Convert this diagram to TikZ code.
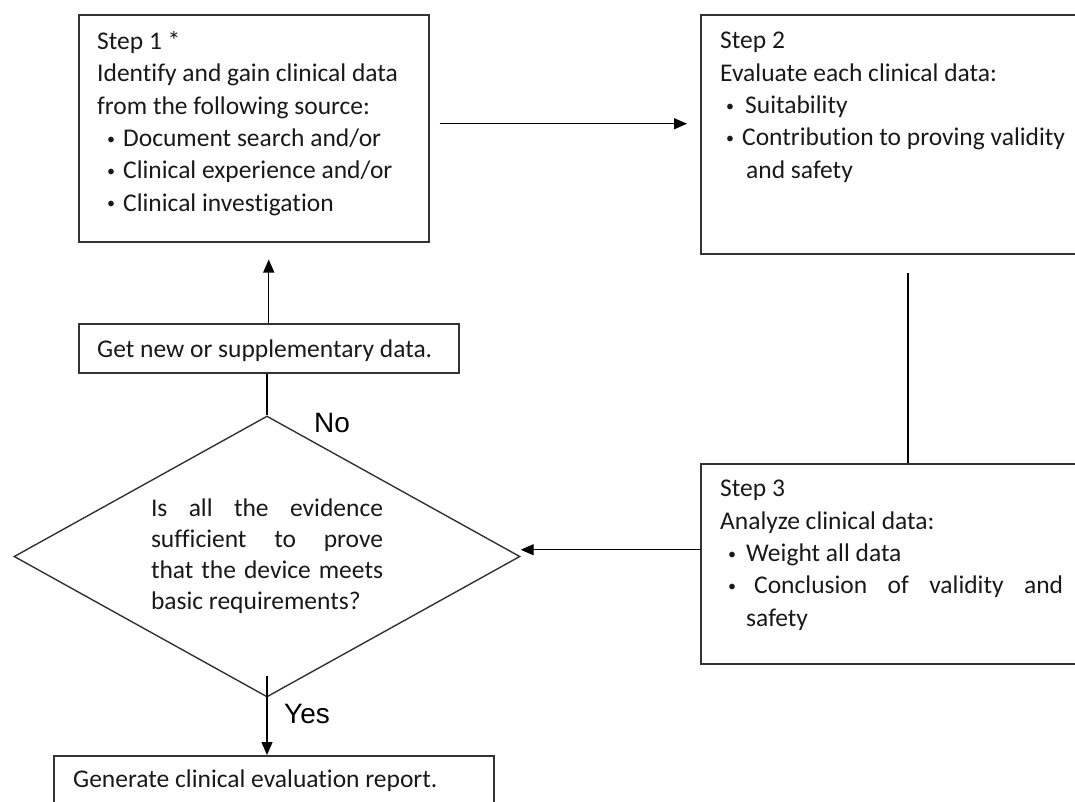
\documentclass[tikz,border=0pt]{standalone}
\usepackage{fontspec}
\setmainfont{Carlito}[Ligatures={NoCommon}]
\newfontfamily\arialfont{Liberation Sans}
\usetikzlibrary{arrows.meta, shapes.geometric}
\newcommand{\bul}{\raisebox{2.5pt}{\fontsize{16}{16}\selectfont\textbullet}}

\begin{document}
\begin{tikzpicture}[
    x=1pt, y=-1pt,
    box/.style={draw=black!80, line width=1.5pt, inner sep=0pt, anchor=north west},
    txt/.style={inner sep=0pt, align=left, anchor=north west, text=black!90, font=\fontsize{25.5}{32.4}\selectfont},
    ask/.style={diamond, draw=black!80, line width=1.4pt, aspect=1.8, minimum width=506pt, minimum height=281pt,
        inner sep=0pt, align=left, text=black!90, font=\fontsize{25.5}{31}\selectfont},
    lbl/.style={inner sep=0pt, anchor=base west, font=\arialfont\fontsize{28}{30}\selectfont},
    link/.style={line width=1.3pt},
    >={Triangle[length=13pt, width=11pt]}
]
    \clip (0,0) rectangle (1075,801);

    % boxes
    \node[box, minimum width=350pt, minimum height=227pt] (s1) at (78,14) {};
    \node[box, minimum width=390pt, minimum height=239pt] (s2) at (700,14) {};
    \node[box, minimum width=390pt, minimum height=200pt] (s3) at (700,463) {};
    \node[box, minimum width=380pt, minimum height=49pt] (new) at (78,323) {};
    \node[box, minimum width=440pt, minimum height=55pt] (rep) at (53,755) {};

    % decision
    \node[ask] (q) at (267,556.5) {%
        \hbox to 232pt{Is\hfill all\hfill the\hfill evidence}\\
        \hbox to 232pt{sufficient\hfill to\hfill prove}\\
        \hbox to 232pt{that\hfill the\hfill device\hfill meets}\\
        basic requirements?};

    % texts
    \node[txt] (s1t) at (97,31) {Step 1 *\\
        Identify and gain clinical data\\
        from the following source:\\
        \hspace*{10pt}\makebox[16pt][l]{\bul}Document search and/or\\
        \hspace*{10pt}\makebox[16pt][l]{\bul}Clinical experience and/or\\
        \hspace*{10pt}\makebox[16pt][l]{\bul}Clinical investigation};
    \node[txt] (s2t) at (720,32) {Step 2\\
        Evaluate each clinical data:\\
        \hspace*{6pt}\makebox[19pt][l]{\bul}Suitability\\
        \hspace*{6pt}\makebox[16pt][l]{\bul}Contribution to proving validity\\
        \hspace*{26pt}and safety};
    \node[txt] (s3t) at (720,480) {Step 3\\
        Analyze clinical data:\\
        \hspace*{8pt}\makebox[18pt][l]{\bul}Weight all data\\
        \hbox to 343pt{\hspace*{8pt}\makebox[26pt][l]{\bul}Conclusion\hfill of\hfill validity\hfill and}\\
        \hspace*{26pt}safety};
    \node[txt, anchor=base west] (newt) at (97,357) {Get new or supplementary data.};
    \node[txt, anchor=base west] (rept) at (73,787) {Generate clinical evaluation report.};

    % connectors
    \draw[link, ->, shorten <=10pt, shorten >=13pt] ([yshift=4.5pt]s1.east) -- ([yshift=4.5pt]s1.east -| s2.west);
    \coordinate (c2) at (908,253);
    \draw[link, shorten <=20pt] (c2) -- (c2 |- s3.north);
    \draw[link, ->] ([yshift=14pt]s3.west) -- ([yshift=14pt]s3.west -| q.east);
    \draw[link] (q.north) -- (q.north |- new.south);
    \draw[link, ->, shorten >=17pt] (new.north) -- (new.north |- s1.south);
    \draw[link, ->] ([yshift=22pt]q.south) -- (q.south |- rep.north);

    % branch labels
    \node[lbl] (no) at (314,432) {No};
    \node[lbl] (yes) at (284,723) {Yes};
\end{tikzpicture}
\end{document}
